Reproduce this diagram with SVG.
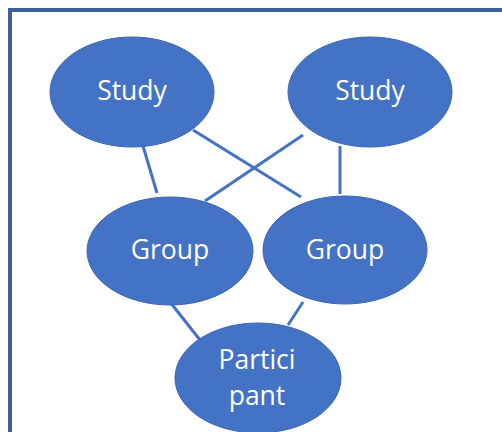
<svg xmlns="http://www.w3.org/2000/svg" width="502" height="432" viewBox="0 0 502 432">
<style>
.node{fill:#4472C4;stroke:#3B66B4;stroke-width:1}
.lbl{fill:#FFFFFF;font-family:"Open Sans","Liberation Sans",sans-serif;font-size:26.5px;text-anchor:middle}
.conn line{stroke:#4472C4;stroke-width:3;stroke-linecap:butt}
</style>
<rect x="0" y="0" width="502" height="432" fill="#FFFFFF"/>
<rect x="10" y="10" width="500" height="430" fill="none" stroke="#3F5F9A" stroke-width="4"/>
<g id="connectors" class="conn">
<line x1="143" y1="146" x2="157" y2="193"/>
<line x1="193" y1="130" x2="301" y2="197"/>
<line x1="303" y1="135" x2="205" y2="201"/>
<line x1="340" y1="146" x2="340" y2="194"/>
<line x1="170" y1="302" x2="200" y2="340"/>
<line x1="303" y1="302" x2="288" y2="325"/>
</g>
<g id="study1"><ellipse class="node" cx="132" cy="92" rx="82" ry="55"/><text class="lbl" x="132" y="100">Study</text></g>
<g id="study2"><ellipse class="node" cx="370" cy="92" rx="82" ry="55"/><text class="lbl" x="370" y="100">Study</text></g>
<g id="group1"><ellipse class="node" cx="170" cy="251" rx="83" ry="54"/><text class="lbl" x="170" y="259">Group</text></g>
<g id="group2"><ellipse class="node" cx="345" cy="250" rx="82" ry="54"/><text class="lbl" x="345" y="259">Group</text></g>
<g id="participant"><ellipse class="node" cx="258" cy="378" rx="83" ry="55"/><text class="lbl" x="257" y="369">Partici</text><text class="lbl" x="257" y="405">pant</text></g>
</svg>
